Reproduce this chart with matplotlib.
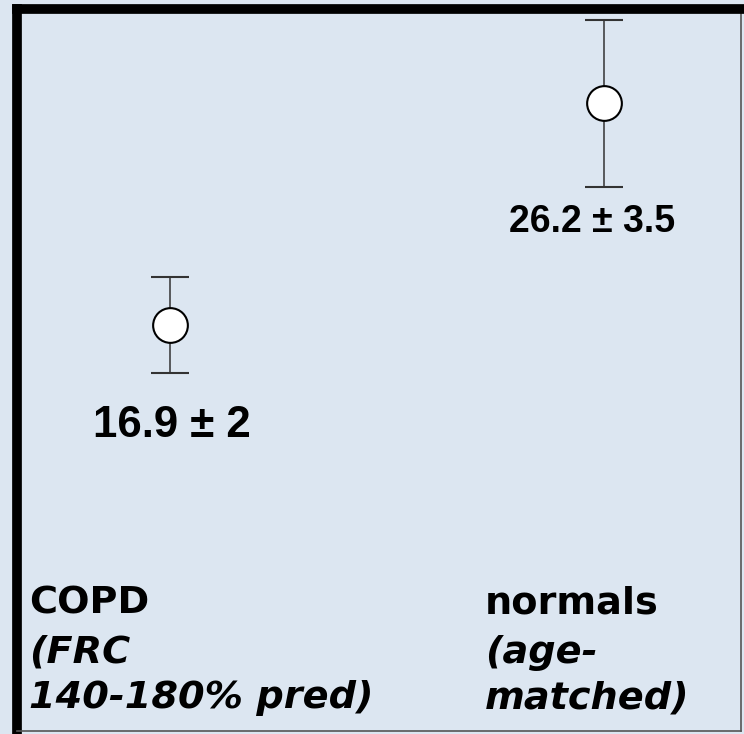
import matplotlib
matplotlib.use("Agg")
import matplotlib.pyplot as plt
from matplotlib import font_manager

# group means and spread, as printed on the chart
groups = ["COPD", "normals"]
means = [16.9, 26.2]
errs = [2.0, 3.5]
value_labels = ["16.9 \u00b1 2", "26.2 \u00b1 3.5"]

bg = "#dce6f1"

# Liberation Sans Bold (not the Narrow cut) for the value labels
bold_file = None
for f in font_manager.findSystemFonts():
    if f.endswith("LiberationSans-Bold.ttf"):
        bold_file = f
        break
if bold_file:
    value_font = font_manager.FontProperties(fname=bold_file)
else:
    value_font = font_manager.FontProperties(family="DejaVu Sans", weight="bold")

fig = plt.figure(figsize=(7.44, 7.34), dpi=100, facecolor=bg)
ax = fig.add_axes([16.5 / 744, 3 / 734, 724.5 / 744, 722 / 734], facecolor=bg)

xpos = list(range(len(groups)))
ax.errorbar(xpos, means, yerr=errs, fmt="o", ms=25, mfc="white", mec="black",
            mew=1.5, ecolor="#333333", elinewidth=1.1, capsize=14, capthick=1.1,
            zorder=3)

ax.set_xlim(-0.3537, 1.3157)
ax.set_ylim(-0.11, 30.14)
ax.set_xticks([])
ax.set_yticks([])

for side in ["left", "top"]:
    ax.spines[side].set_linewidth(7)
    ax.spines[side].set_color("black")
for side in ["right", "bottom"]:
    ax.spines[side].set_linewidth(1.2)
    ax.spines[side].set_color("#555555")

# value labels under each point
fp = value_font.copy()
fp.set_size(31.5)
fig.text(172 / 744, 1 - 437 / 734, value_labels[0], ha="center", va="baseline",
         fontproperties=fp)
fp = value_font.copy()
fp.set_size(27)
fig.text(592 / 744, 1 - 232 / 734, value_labels[1], ha="center", va="baseline",
         fontproperties=fp)

# group captions at the bottom
caption_lines = [
    ["COPD", "(FRC", "140-180% pred)"],
    ["normals", "(age-", "matched)"],
]
caption_x = [29, 485]
baselines = [613, 663, 708]
for lines, cx in zip(caption_lines, caption_x):
    for i, (txt, by) in enumerate(zip(lines, baselines)):
        fig.text(cx / 744, 1 - by / 734, txt, ha="left", va="baseline",
                 fontsize=27.5, fontweight="bold", family="DejaVu Sans",
                 style="normal" if i == 0 else "italic")

fig.savefig("out.png", dpi=100, facecolor=bg)
